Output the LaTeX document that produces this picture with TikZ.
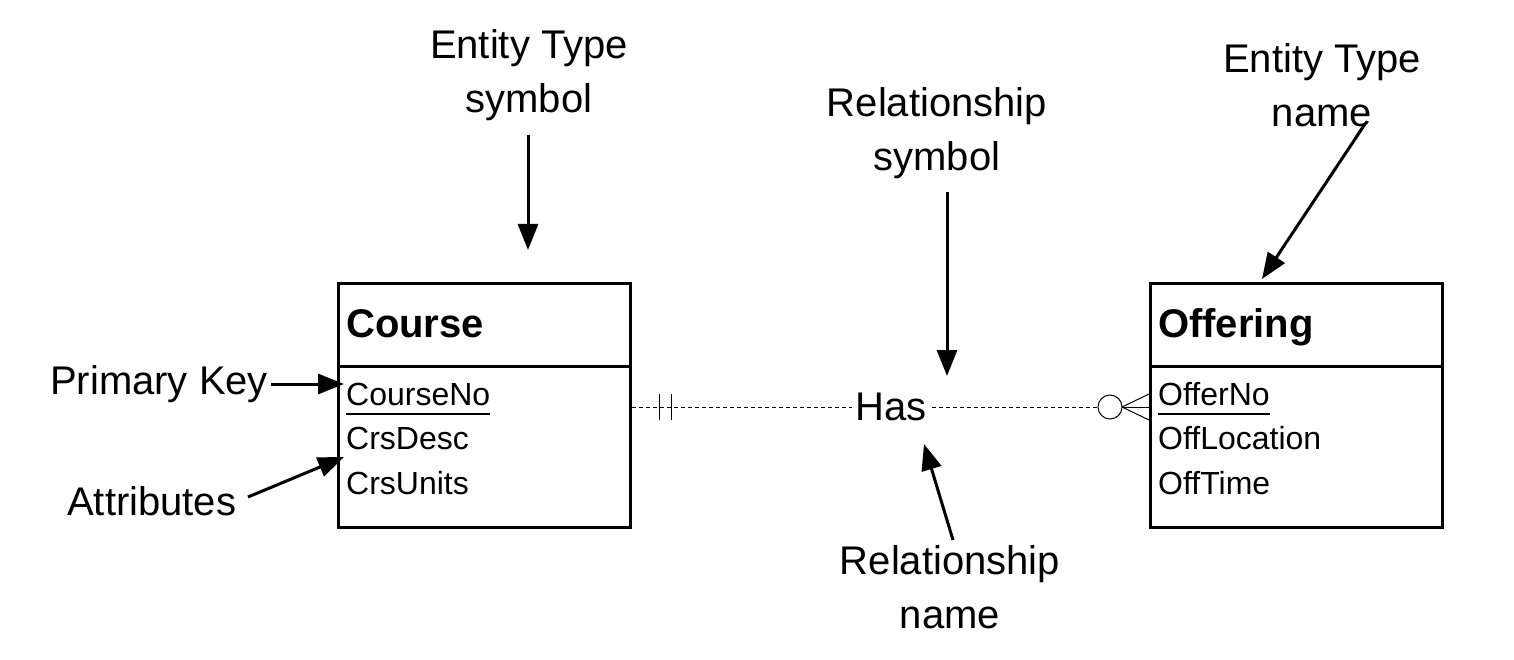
\documentclass[tikz,border=0pt]{standalone}
\usepackage{fontspec}
\setmainfont{Liberation Sans}
\usetikzlibrary{arrows.meta}
\begin{document}
\begin{tikzpicture}[x=1pt,y=-1pt,
 lbl/.style={font=\fontsize{40}{54}\selectfont, align=center, inner sep=0},
 side/.style={font=\fontsize{40}{54}\selectfont, anchor=base west, inner sep=0},
 attr/.style={font=\fontsize{32}{38}\selectfont, anchor=base west, inner sep=0},
 ent/.style={draw, line width=3pt, minimum width=292pt, minimum height=244pt, inner sep=0},
 etitle/.style={font=\fontsize{40}{48}\selectfont\bfseries, anchor=base west, inner sep=0},
 pointer/.style={line width=3pt, -{Triangle[length=26pt,width=20pt]}},
 rel/.style={line width=1pt, dash pattern=on 4pt off 3pt},
 thin/.style={line width=1pt},
]
\useasboundingbox (0,0) rectangle (1514,660);
\fill[white] (0,0) rectangle (1514,660);

% entity boxes
\node[ent] (course) at (484.5,405.5) {};
\node[ent] (offering) at (1296.5,405.5) {};
\draw[line width=3pt] (course.west |- 0,366) -- (course.east |- 0,366);
\draw[line width=3pt] (offering.west |- 0,366) -- (offering.east |- 0,366);

\node[etitle] (ctitle) at (346,337) {Course};
\node[etitle] (otitle) at (1158,337) {Offering};

\node[attr] (cno) at (346,405) {CourseNo};
\node[attr] (cdesc) at (346,449) {CrsDesc};
\node[attr] (cunits) at (346,494) {CrsUnits};
\draw[line width=2pt] ([yshift=-9pt]cno.base west) -- ([yshift=-9pt]cno.base east);

\node[attr] (ono) at (1158,405) {OfferNo};
\node[attr] (oloc) at (1158,449) {OffLocation};
\node[attr] (otime) at (1158,494) {OffTime};
\draw[line width=2pt] ([yshift=-9pt]ono.base west) -- ([yshift=-9pt]ono.base east);

% relationship
\node[side] (has) at (855,420) {Has};
\coordinate (cpt) at (632,407);
\coordinate (opt) at (1149,407);
\node[draw, thin, circle, minimum size=24pt, inner sep=0] (oc) at (1110,407) {};
\coordinate (foot) at (1122,407);
\draw[rel] (cpt) -- ([xshift=-3pt]has.west |- cpt);
\draw[rel] ([xshift=5pt]has.east |- cpt) -- (oc.west);
\draw[thin] (foot) -- ([yshift=13pt]opt);
\draw[thin] (foot) -- (opt);
\draw[thin] (foot) -- ([yshift=-13pt]opt);
\coordinate (b1) at (659,407);
\coordinate (b2) at (671,407);
\draw[thin] ([yshift=-13pt]b1) -- ([yshift=13pt]b1);
\draw[thin] ([yshift=-13pt]b2) -- ([yshift=13pt]b2);

% labels
\node[lbl] (ets) at (529,75) {Entity Type\\symbol};
\node[lbl] (rs) at (937,133) {Relationship\\symbol};
\node[lbl] (etn) at (1322,85) {Entity Type\\name};
\node[lbl] (rn) at (950,587) {Relationship\\name};
\node[side] (pk) at (50,394) {Primary Key};
\node[side] (at) at (67,515) {Attributes};

% pointers
\coordinate (etsS) at (528,135);
\coordinate (etsT) at (528,250);
\draw[pointer] (etsS) -- (etsT);
\coordinate (rsS) at (947,192);
\coordinate (rsT) at (947,376);
\draw[pointer] (rsS) -- (rsT);
\coordinate (etnS) at (1365,124);
\coordinate (etnT) at (1262,279);
\draw[pointer] (etnS) -- (etnT);
\coordinate (pkS) at (271,384);
\coordinate (pkT) at (344,384);
\draw[pointer] (pkS) -- (pkT);
\coordinate (atS) at (248,497);
\coordinate (atT) at (344,457);
\draw[pointer] (atS) -- (atT);
\coordinate (rnS) at (953,540);
\coordinate (rnT) at (924,444);
\draw[pointer] (rnS) -- (rnT);
\end{tikzpicture}
\end{document}
